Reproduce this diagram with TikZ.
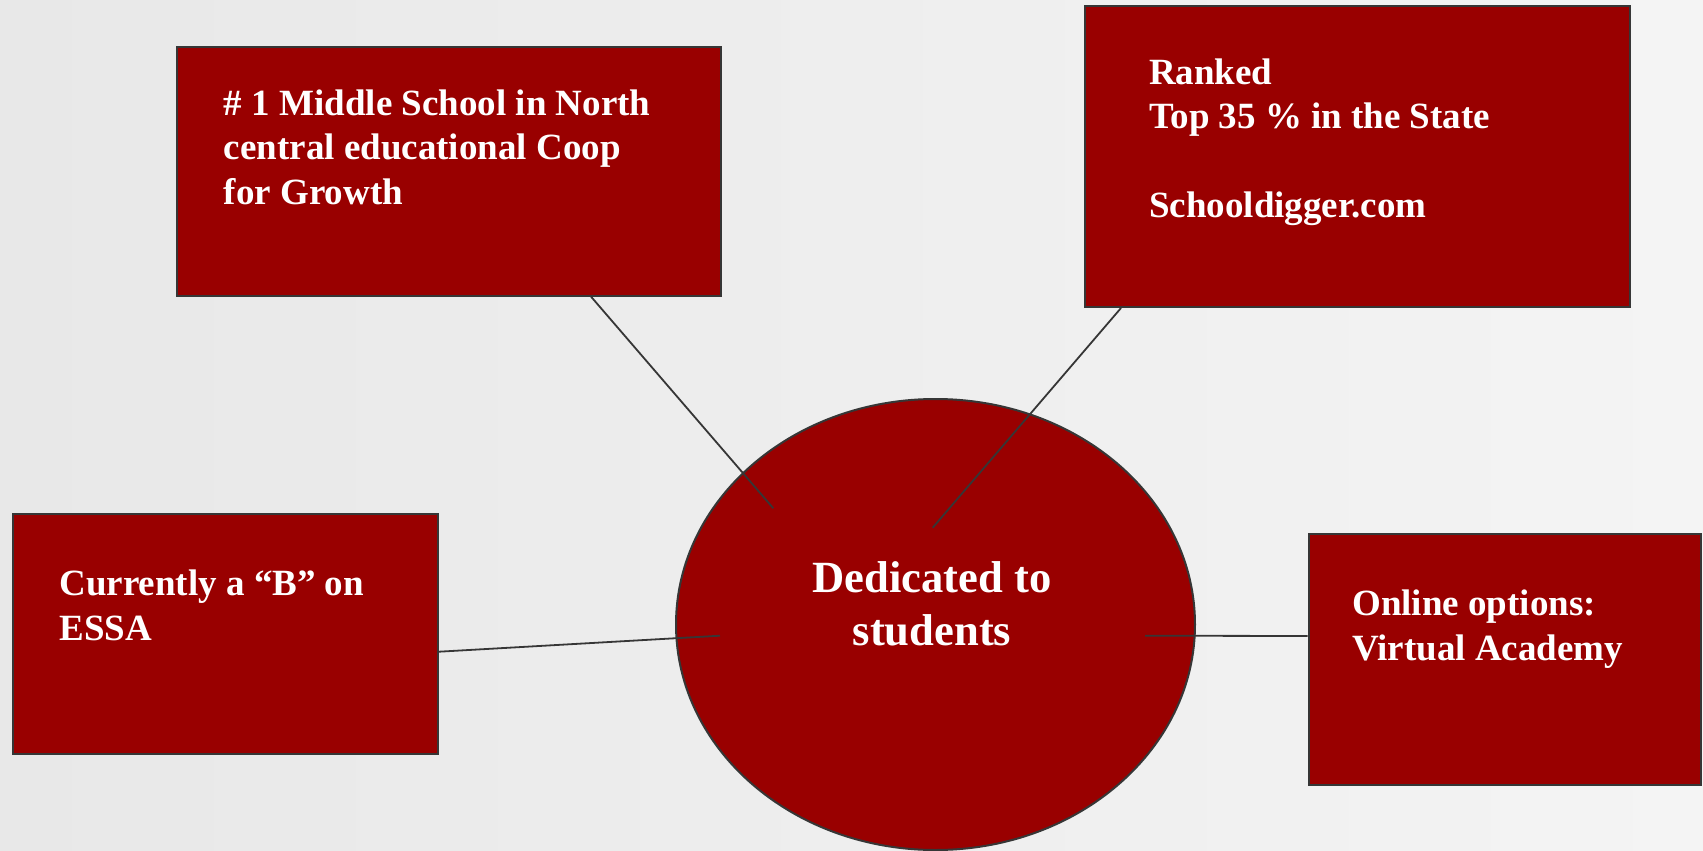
\documentclass[tikz,border=0pt]{standalone}
\usepackage{fontspec}
\setmainfont{Liberation Serif}
\usetikzlibrary{shapes.geometric,calc}
\definecolor{boxred}{HTML}{990000}
\definecolor{edgegray}{HTML}{363636}
\definecolor{bgl}{HTML}{E8E8E8}
\definecolor{bgr}{HTML}{F4F4F4}
\begin{document}
\begin{tikzpicture}[x=1pt,y=-1pt,
  box/.style={draw=edgegray,line width=2pt,fill=boxred,rectangle,anchor=north west,inner sep=0pt},
  txt/.style={text=white,font=\bfseries\fontsize{37}{44.5}\selectfont,align=left,anchor=north west,inner sep=0pt},
  link/.style={draw=edgegray,line width=1.8pt}]
\path[use as bounding box,left color=bgl,right color=bgr] (0,0) rectangle (1703,851);
% boxes
\node[box,minimum width=544pt,minimum height=249pt] (b1) at (176,45.6) {};
\node[box,minimum width=545pt,minimum height=300.6pt] (b2) at (1084,5.4) {};
\node[box,minimum width=425.5pt,minimum height=240pt] (b3) at (11.5,512.7) {};
\node[box,minimum width=392pt,minimum height=250.7pt] (b4) at (1307.7,533.3) {};
% hub
\node[ellipse,draw=edgegray,line width=2pt,fill=boxred,minimum width=519pt,minimum height=451pt,inner sep=0pt] (hub) at (935.5,624.5) {};
% texts
\node[txt] (t1) at (223.7,89.3) {\# 1 Middle School in North\\central educational Coop\\for Growth};
\node[txt] (t2) at (1149,58.3) {Ranked\\Top 35 \% in the State\\[44.5pt]Schooldigger.com};
\node[txt] (t3) at (59.3,570) {Currently a “B” on\\ESSA};
\node[txt] (t4) at (1352,590) {Online options:\\Virtual Academy};
\node[text=white,font=\bfseries\fontsize{44.6}{53.3}\selectfont,align=center,anchor=north,inner sep=0pt] (ht) at (932,561.2) {Dedicated to\\students};
% connector ends
\coordinate (c1) at ($(b1.south west)+(415,0)$);
\coordinate (h1) at (773.3,508.3);
\coordinate (c2) at ($(b2.south west)+(37,0)$);
\coordinate (h2) at (932.7,527.7);
\coordinate (c3) at ($(b3.north east)+(0,139)$);
\coordinate (h3) at (720,635.7);
\coordinate (c4) at ($(b4.north west)+(0,102.7)$);
\coordinate (h4) at (1145,635.7);
\draw[link] (c1) -- (h1);
\draw[link] (c2) -- (h2);
\draw[link] (c3) -- (h3);
\draw[link] (h4) -- (c4);
\end{tikzpicture}
\end{document}
